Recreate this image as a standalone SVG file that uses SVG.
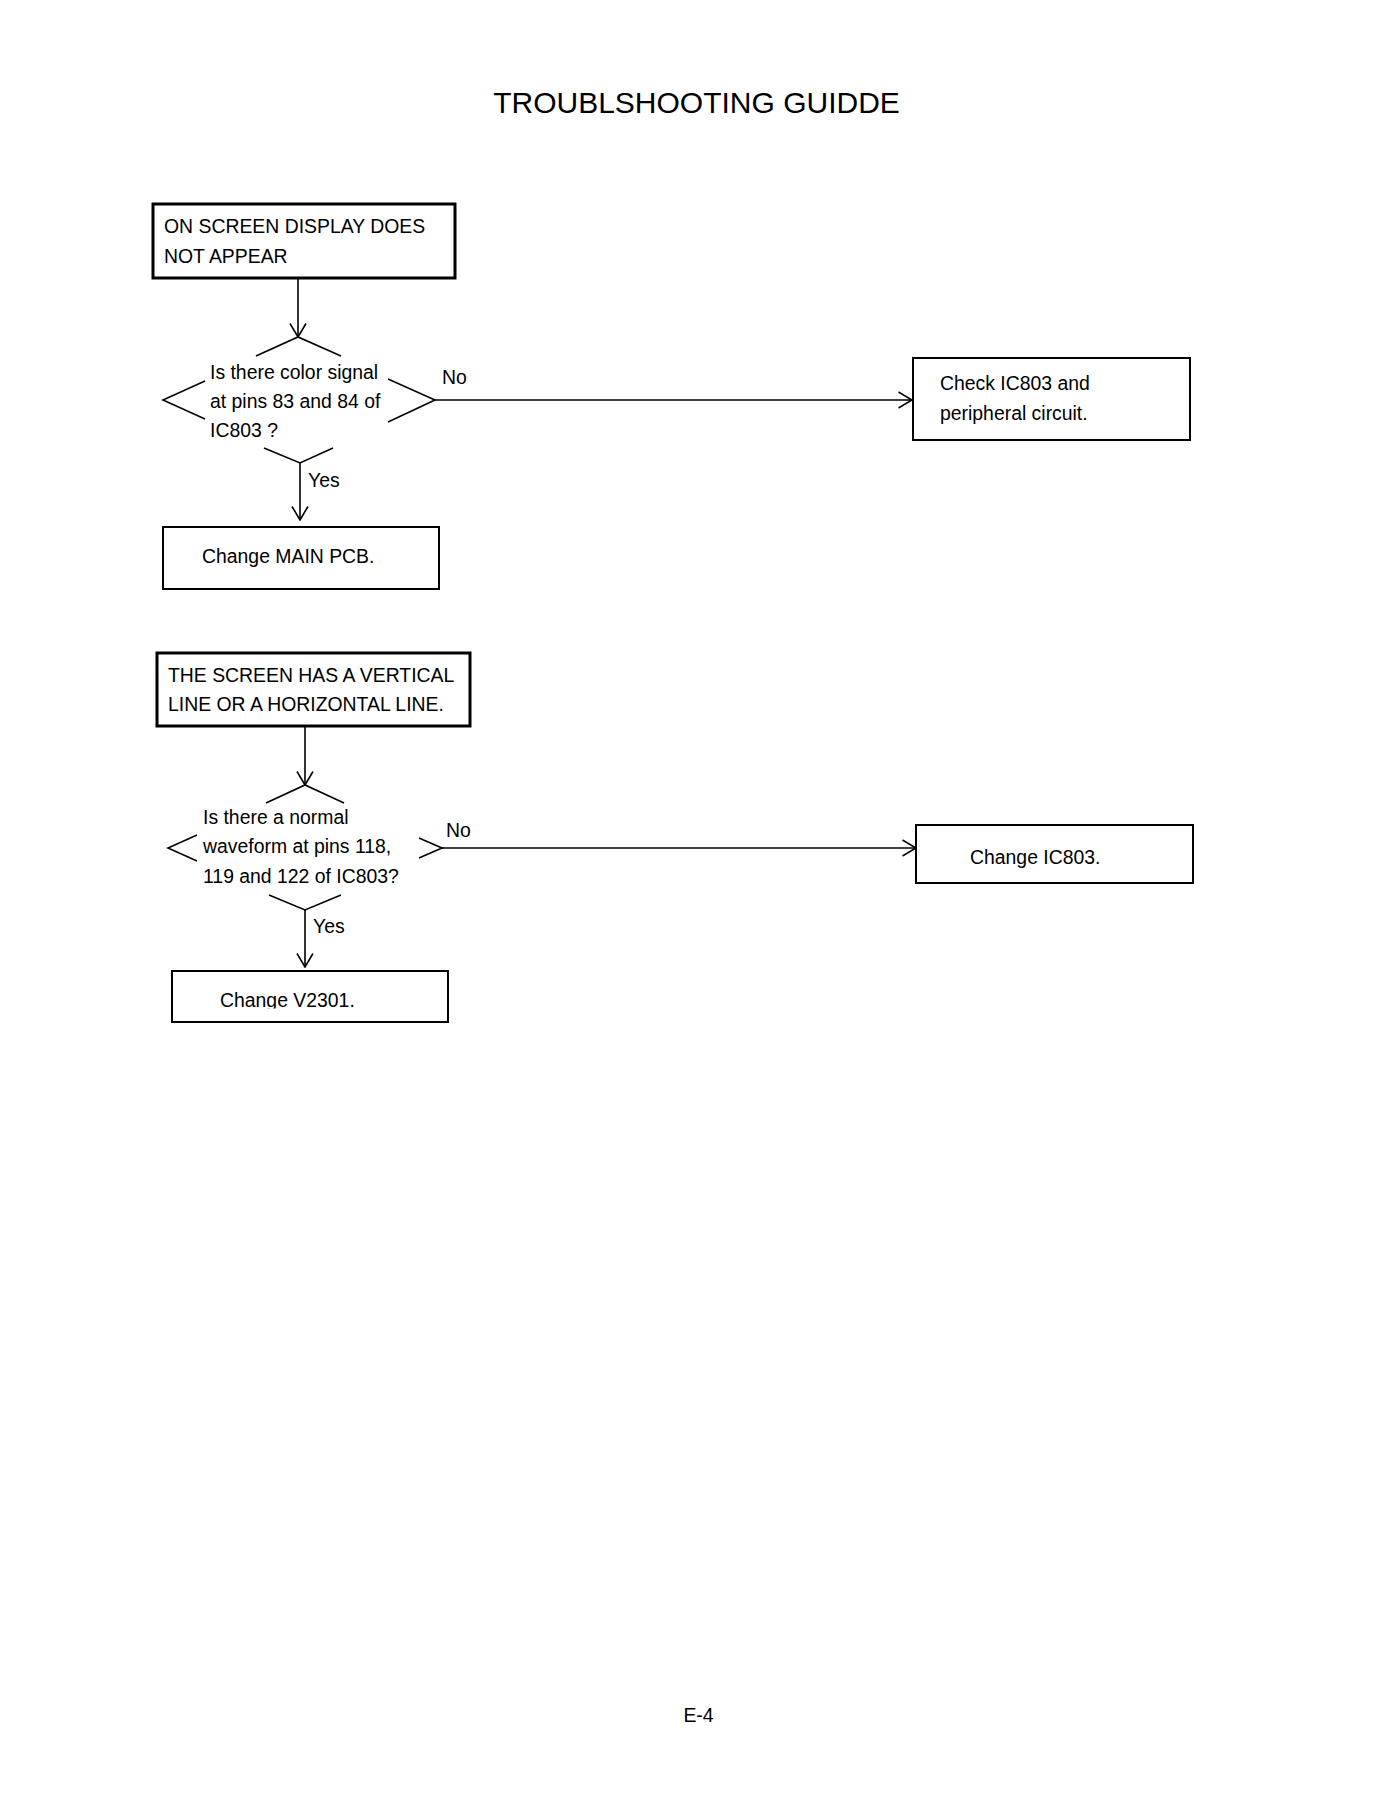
<svg xmlns="http://www.w3.org/2000/svg" width="1400" height="1812" viewBox="0 0 1400 1812">
<style>
text{font-family:"Liberation Sans",Arial,sans-serif;fill:#000}
.t{font-size:19.4px}
.title{font-size:30px}
.thick{fill:#fff;stroke:#000;stroke-width:3}
.box{fill:#fff;stroke:#000;stroke-width:2}
.dia{fill:none;stroke:#000;stroke-width:1.6}
.con{fill:none;stroke:#000;stroke-width:1.6}
</style>
<defs>
<marker id="arr" viewBox="0 0 15 18" refX="14" refY="9" markerWidth="15" markerHeight="18" markerUnits="userSpaceOnUse" orient="auto">
<path d="M0.5,1 L14,9 L0.5,17" fill="none" stroke="#000" stroke-width="1.6"/>
</marker>
<clipPath id="clipV"><rect x="172" y="971" width="276" height="37.5"/></clipPath>
</defs>
<rect width="1400" height="1812" fill="#fff"/>
<text class="title" x="696.5" y="113" text-anchor="middle">TROUBLSHOOTING GUIDDE</text>

<g id="connectors">
<line class="con" x1="298" y1="278" x2="298" y2="337" marker-end="url(#arr)"/>
<line class="con" x1="435" y1="400" x2="912" y2="400" marker-end="url(#arr)"/>
<line class="con" x1="300" y1="463" x2="300" y2="520" marker-end="url(#arr)"/>
<line class="con" x1="305" y1="726" x2="305" y2="785" marker-end="url(#arr)"/>
<line class="con" x1="442" y1="848" x2="916" y2="848" marker-end="url(#arr)"/>
<line class="con" x1="305" y1="910" x2="305" y2="967" marker-end="url(#arr)"/>
<text class="t" x="442" y="384">No</text>
<text class="t" x="308" y="487">Yes</text>
<text class="t" x="446" y="837">No</text>
<text class="t" x="313" y="933">Yes</text>
</g>

<g id="start1">
<rect class="thick" x="153" y="204" width="302" height="74"/>
<text class="t" x="164" y="233">ON SCREEN DISPLAY DOES</text>
<text class="t" x="164" y="263">NOT APPEAR</text>
</g>

<g id="decision1">
<path class="dia" d="M256,356 L298,337 L341,356 M205,381 L163,400 L205,419 M388,379 L435,400 L388,422 M264,448 L300,463 L333,448"/>
<text class="t" x="210" y="379">Is there color signal</text>
<text class="t" x="210" y="408">at pins 83 and 84 of</text>
<text class="t" x="210" y="437">IC803 ?</text>
</g>

<g id="check1">
<rect class="box" x="913" y="358" width="277" height="82"/>
<text class="t" x="940" y="390">Check IC803 and</text>
<text class="t" x="940" y="420">peripheral circuit.</text>
</g>

<g id="mainpcb">
<rect class="box" x="163" y="527" width="276" height="62"/>
<text class="t" x="202" y="563">Change MAIN PCB.</text>
</g>

<g id="start2">
<rect class="thick" x="157" y="653" width="313" height="73"/>
<text class="t" x="168" y="682">THE SCREEN HAS A VERTICAL</text>
<text class="t" x="168" y="711">LINE OR A HORIZONTAL LINE.</text>
</g>

<g id="decision2">
<path class="dia" d="M266,803 L305,785 L344,803 M197,835 L168,848 L197,861 M419,838 L442,848 L419,858 M269,895 L305,910 L341,895"/>
<text class="t" x="203" y="824">Is there a normal</text>
<text class="t" x="203" y="853">waveform at pins 118,</text>
<text class="t" x="203" y="883">119 and 122 of IC803?</text>
</g>

<g id="ic803">
<rect class="box" x="916" y="825" width="277" height="58"/>
<text class="t" x="970" y="864">Change IC803.</text>
</g>

<g id="v2301">
<rect class="box" x="172" y="971" width="276" height="51"/>
<text class="t" x="220" y="1007" clip-path="url(#clipV)">Change V2301.</text>
</g>

<text class="t" x="698.5" y="1722" text-anchor="middle">E-4</text>
</svg>
